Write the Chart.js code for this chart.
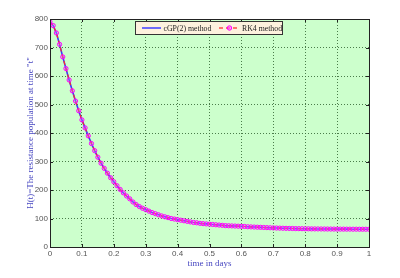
<!DOCTYPE html>
<html>
<head>
<meta charset="utf-8">
<script src="https://cdn.jsdelivr.net/npm/chart.js@4"></script>
<style>
html,body{margin:0;padding:0;background:#fff;}
#wrap{width:400px;height:278px;position:relative;}
</style>
</head>
<body>
<div id="wrap"><canvas id="c" width="400" height="278"></canvas></div>
<script>
// time in days (step 0.01)
const tValues = [
0.00,0.01,0.02,0.03,0.04,0.05,0.06,0.07,0.08,0.09,
0.10,0.11,0.12,0.13,0.14,0.15,0.16,0.17,0.18,0.19,
0.20,0.21,0.22,0.23,0.24,0.25,0.26,0.27,0.28,0.29,
0.30,0.31,0.32,0.33,0.34,0.35,0.36,0.37,0.38,0.39,
0.40,0.41,0.42,0.43,0.44,0.45,0.46,0.47,0.48,0.49,
0.50,0.51,0.52,0.53,0.54,0.55,0.56,0.57,0.58,0.59,
0.60,0.61,0.62,0.63,0.64,0.65,0.66,0.67,0.68,0.69,
0.70,0.71,0.72,0.73,0.74,0.75,0.76,0.77,0.78,0.79,
0.80,0.81,0.82,0.83,0.84,0.85,0.86,0.87,0.88,0.89,
0.90,0.91,0.92,0.93,0.94,0.95,0.96,0.97,0.98,0.99,1.00];

// cGP(2) method values
const cgpValues = [
790,777,751,711,667,626,586,548,512,478,
446,418,390,363,338,315,294,276,259,243,
229,215,202,190,179,169,158,149,142,136,
131,126,121,117,113,109,106,103,100,98,
96,94,92,90,88,86,85,83,82,81,
80,79,78,77,76,75,74.5,74,73.5,73,
72.5,72,71,70.5,70,69.5,69,68.5,68,67.5,
67,66.6,66.2,65.8,65.5,65.2,64.9,64.6,64.4,64.2,
64,63.8,63.6,63.5,63.4,63.3,63.2,63.1,63,62.9,
62.8,62.7,62.7,62.6,62.6,62.5,62.5,62.4,62.4,62.3,62.3];

// RK4 method values (coincide with cGP(2) in the picture)
const rk4Values = [
790,777,751,711,667,626,586,548,512,478,
446,418,390,363,338,315,294,276,259,243,
229,215,202,190,179,169,158,149,142,136,
131,126,121,117,113,109,106,103,100,98,
96,94,92,90,88,86,85,83,82,81,
80,79,78,77,76,75,74.5,74,73.5,73,
72.5,72,71,70.5,70,69.5,69,68.5,68,67.5,
67,66.6,66.2,65.8,65.5,65.2,64.9,64.6,64.4,64.2,
64,63.8,63.6,63.5,63.4,63.3,63.2,63.1,63,62.9,
62.8,62.7,62.7,62.6,62.6,62.5,62.5,62.4,62.4,62.3,62.3];

const seriesNames = ['cGP(2) method', 'RK4 method'];
const xTickLabels = ['0','0.1','0.2','0.3','0.4','0.5','0.6','0.7','0.8','0.9','1'];
const yTickLabels = ['0','100','200','300','400','500','600','700','800'];
const xTitle = 'time in days';
const yTitle = 'H(t)=The resistance population at time "t"';

const toPts = (ys) => ys.map((y, i) => ({x: tValues[i], y: y}));

const matlabPlugin = {
  id: 'matlab',
  beforeDraw(chart) {
    const {ctx, chartArea: a} = chart;
    ctx.save();
    ctx.fillStyle = '#ffffff';
    ctx.fillRect(0, 0, chart.width, chart.height);
    ctx.fillStyle = '#ccffcc';
    ctx.fillRect(a.left, a.top, a.right - a.left, a.bottom - a.top);
    ctx.restore();
  },
  afterDraw(chart) {
    const {ctx, chartArea: a, scales} = chart;
    const xs = scales.x, ys = scales.y;
    ctx.save();
    // frame
    ctx.strokeStyle = '#222';
    ctx.lineWidth = 1;
    ctx.strokeRect(Math.round(a.left) + 0.5, Math.round(a.top) + 0.5,
      Math.round(a.right - a.left), Math.round(a.bottom - a.top));
    // inward ticks
    const tl = 3;
    ctx.beginPath();
    xs.ticks.forEach(t => {
      const px = Math.round(xs.getPixelForValue(t.value)) + 0.5;
      ctx.moveTo(px, a.bottom); ctx.lineTo(px, a.bottom - tl);
      ctx.moveTo(px, a.top); ctx.lineTo(px, a.top + tl);
    });
    ys.ticks.forEach(t => {
      const py = Math.round(ys.getPixelForValue(t.value)) + 0.5;
      ctx.moveTo(a.left, py); ctx.lineTo(a.left + tl, py);
      ctx.moveTo(a.right, py); ctx.lineTo(a.right - tl, py);
    });
    ctx.stroke();

    // legend box
    const bx = 135.5, by = 21.5, bw = 147, bh = 13;
    ctx.fillStyle = '#fdf1de';
    ctx.fillRect(bx, by, bw, bh);
    ctx.strokeStyle = '#333';
    ctx.lineWidth = 1;
    ctx.strokeRect(bx, by, bw, bh);
    const ly = by + bh / 2;
    // blue sample
    ctx.strokeStyle = '#4a4aff';
    ctx.lineWidth = 1.6;
    ctx.beginPath(); ctx.moveTo(142, ly); ctx.lineTo(161, ly); ctx.stroke();
    // red dashed sample
    ctx.strokeStyle = '#ff4a4a';
    ctx.setLineDash([4, 3]);
    ctx.beginPath(); ctx.moveTo(219, ly); ctx.lineTo(240, ly); ctx.stroke();
    ctx.setLineDash([]);
    ctx.beginPath(); ctx.arc(229.5, ly, 2.2, 0, Math.PI * 2);
    ctx.fillStyle = 'rgba(255,110,255,0.6)'; ctx.fill();
    ctx.strokeStyle = '#ff00ff'; ctx.lineWidth = 1; ctx.stroke();
    // texts
    ctx.fillStyle = '#222';
    ctx.font = '7.8px "Liberation Serif"';
    ctx.textBaseline = 'middle';
    ctx.textAlign = 'left';
    ctx.fillText(seriesNames[0], 163.5, ly + 0.5);
    ctx.fillText(seriesNames[1], 242, ly + 0.5);
    ctx.restore();
  }
};

const gridColor = 'rgba(60,110,60,0.9)';

new Chart(document.getElementById('c'), {
  type: 'line',
  data: {
    datasets: [
      {
        label: seriesNames[0],
        data: toPts(cgpValues),
        borderColor: '#3a3aff',
        borderWidth: 1.6,
        pointRadius: 0,
        fill: false,
        tension: 0,
        order: 2
      },
      {
        label: seriesNames[1],
        data: toPts(rk4Values),
        borderColor: '#ff2a2a',
        borderWidth: 1.2,
        borderDash: [4, 3],
        pointRadius: 2.1,
        pointBorderWidth: 1,
        pointBorderColor: '#ff00ff',
        pointBackgroundColor: 'rgba(255,120,255,0.3)',
        fill: false,
        tension: 0,
        order: 1
      }
    ]
  },
  options: {
    responsive: false,
    animation: false,
    devicePixelRatio: 1,
    layout: {padding: {top: 19, right: 31, left: 0, bottom: 0}},
    plugins: {legend: {display: false}, tooltip: {enabled: false}},
    scales: {
      x: {
        type: 'linear',
        min: 0, max: 1,
        afterFit(s) { s.height = 31; },
        ticks: {
          stepSize: 0.1,
          autoSkip: false,
          maxRotation: 0,
          padding: 2,
          color: '#555',
          font: {family: '"Liberation Sans", Arial', size: 8},
          callback: (v) => xTickLabels[Math.round(v * 10)]
        },
        grid: {
          color: gridColor,
          lineWidth: (c) => (c.index === 0 || c.index === 10) ? 0 : 1,
          drawTicks: false
        },
        border: {display: false, dash: [1, 2]},
        title: {
          display: true,
          text: xTitle,
          color: '#4646c0',
          font: {family: '"Liberation Serif", serif', size: 9},
          padding: {top: 0, bottom: 9}
        }
      },
      y: {
        type: 'linear',
        min: 0, max: 800,
        afterFit(s) { s.width = 50; },
        ticks: {
          stepSize: 100,
          padding: 2,
          color: '#555',
          font: {family: '"Liberation Sans", Arial', size: 8},
          callback: (v) => yTickLabels[Math.round(v / 100)]
        },
        grid: {
          color: gridColor,
          lineWidth: (c) => (c.index === 0 || c.index === 8) ? 0 : 1,
          drawTicks: false
        },
        border: {display: false, dash: [1, 2]},
        title: {
          display: true,
          text: yTitle,
          color: '#4646c0',
          font: {family: '"Liberation Serif", serif', size: 9},
          padding: {top: 25, bottom: 0}
        }
      }
    }
  },
  plugins: [matlabPlugin]
});
</script>
</body>
</html>
